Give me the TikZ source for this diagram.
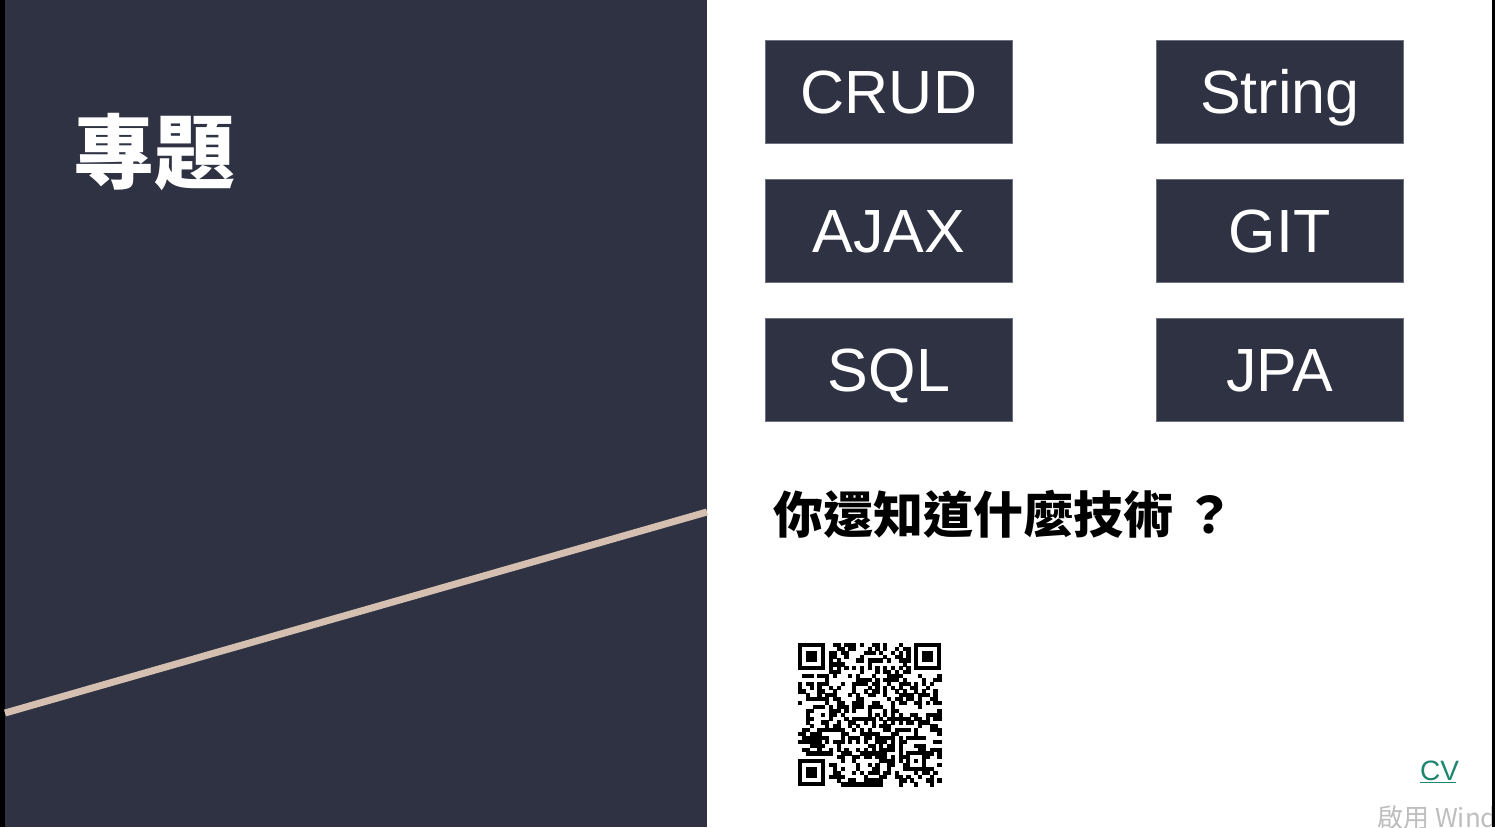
\documentclass[tikz,border=0pt]{standalone}
\usepackage{fontspec}
\setmainfont{Liberation Sans}
\newfontfamily\cjk{Noto Sans CJK TC}
\usetikzlibrary{positioning}
\definecolor{slatenavy}{RGB}{46,50,66}
\definecolor{boxedge}{RGB}{110,114,126}
\definecolor{sandline}{RGB}{212,191,177}
\definecolor{linkteal}{RGB}{28,134,112}
\definecolor{wmgray}{RGB}{190,190,190}
\tikzset{
    techbox/.style={fill=slatenavy, draw=boxedge, line width=0.8pt,
            minimum width=247pt, minimum height=103pt, inner sep=0pt,
            text=white, font=\fontsize{61}{61}\selectfont,
            text height=43.7pt, text depth=0pt},
    finder/.style={fill=black},
}
\def\qrm{3.87}
\newcommand{\qrfinder}[2]{%
    \fill[finder] ({798+#1*\qrm},{643+#2*\qrm}) rectangle +({7*\qrm},{7*\qrm});
    \fill[white] ({798+(#1+1)*\qrm},{643+(#2+1)*\qrm}) rectangle +({5*\qrm},{5*\qrm});
    \fill[finder] ({798+(#1+2)*\qrm},{643+(#2+2)*\qrm}) rectangle +({3*\qrm},{3*\qrm});
}
\begin{document}
\begin{tikzpicture}[x=1pt, y=-1pt]
        \useasboundingbox (0, 0) rectangle (1495, 827);
        \clip (0, 0) rectangle (1495, 827);
        %background and dark panel
        \fill[white] (0, 0) rectangle (1495, 827);
        \fill[slatenavy] (0, 0) rectangle (707, 827);
        \fill[black] (0, 0) rectangle (5, 827);
        %diagonal stripe
        \coordinate (stripeA) at (5, 713);
        \coordinate (stripeB) at (707, 512);
        \draw[sandline, line width=7pt] (stripeA) -- (stripeB);
        %title
        \node[anchor=base west, inner sep=0pt, text=white, font=\cjk\bfseries\fontsize{81}{81}\selectfont] (title) at (73, 182) {專題};
        %technology boxes
        \node[techbox] (crud) at (889, 92) {CRUD};
        \node[techbox, right=143pt of crud] (string) {String};
        \node[techbox, below=35pt of crud] (ajax) {AJAX};
        \node[techbox, below=35pt of string] (git) {GIT};
        \node[techbox, below=35pt of ajax] (sql) {SQL};
        \node[techbox, below=35pt of git] (jpa) {JPA};
        %question
        \node[anchor=base west, inner sep=0pt, font=\cjk\bfseries\fontsize{50}{50}\selectfont] (question) at (773, 533) {你還知道什麼技術 ？};
        %qr code
        \pgfmathsetseed{2023}
        \foreach \r in {0,...,36}{
            \foreach \c in {0,...,36}{
                \pgfmathtruncatemacro\qrskip{((\r<8)&&(\c<8)) || ((\r<8)&&(\c>28)) || ((\r>28)&&(\c<8)) || ((\r>27)&&(\r<33)&&(\c>27)&&(\c<33)) ? 1 : 0}
                \pgfmathtruncatemacro\qrbit{(\r==6) ? (mod(\c,2)==0) : ((\c==6) ? (mod(\r,2)==0) : (rnd<0.5))}
                \ifnum\qrskip=0
                    \ifnum\qrbit=1
                        \fill ({798+\c*\qrm},{643+\r*\qrm}) rectangle +({\qrm+0.3},{\qrm+0.3});
                    \fi
                \fi
            }
        }
        \qrfinder{0}{0}
        \qrfinder{30}{0}
        \qrfinder{0}{30}
        \fill ({798+28*\qrm},{643+28*\qrm}) rectangle +({5*\qrm},{5*\qrm});
        \fill[white] ({798+29*\qrm},{643+29*\qrm}) rectangle +({3*\qrm},{3*\qrm});
        \fill ({798+30*\qrm},{643+30*\qrm}) rectangle +({\qrm},{\qrm});
        %cv link
        \node[anchor=base west, inner sep=0pt, text=linkteal, font=\fontsize{28}{28}\selectfont] (cv) at (1420, 780) {CV};
        \draw[linkteal, line width=1.6pt] (cv.south west) ++(0, 2) -- ++(36, 0);
        %watermark
        \node[anchor=base west, inner sep=0pt, text=wmgray, font=\cjk\fontsize{26}{26}\selectfont] (mark) at (1377, 827) {啟用 Wind};
        \fill[black] (1492, 0) rectangle (1495, 827);
    \end{tikzpicture}
\end{document}
